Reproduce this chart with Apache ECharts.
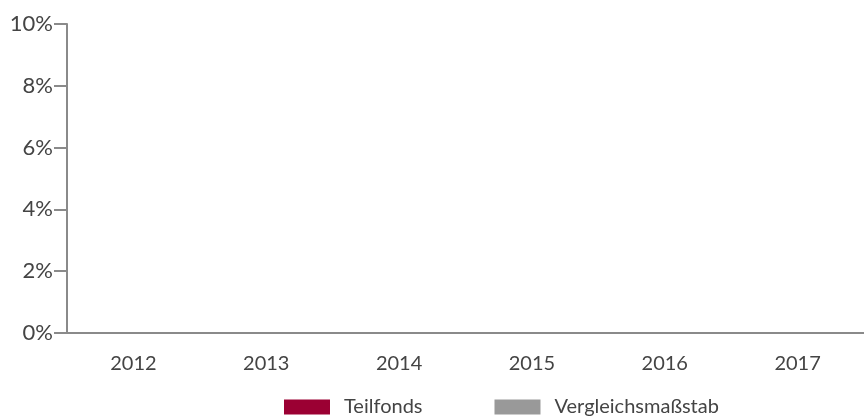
<!DOCTYPE html>
<html>
<head>
<meta charset="utf-8">
<script src="https://cdn.jsdelivr.net/npm/echarts@6/dist/echarts.min.js"></script>
<style>
  html, body { margin: 0; padding: 0; background: #fff; }
  #chart { width: 864px; height: 419px; }
</style>
</head>
<body>
<div id="chart"></div>
<script>
// Jahre auf der x-Achse
var years = ['2012', '2013', '2014', '2015', '2016', '2017'];
// Werte (im Bild leer – keine Balken gezeichnet)
var teilfonds = [];
var vergleich = [];
var seriesNames = ['Teilfonds', 'Vergleichsmaßstab'];

var chart = echarts.init(document.getElementById('chart'));

var axisColor = '#8a8a8a';
var textColor = '#444';
var font = 'Lato, "Open Sans", sans-serif';

var option = {
  animation: false,
  grid: { left: 67, right: -7, top: 24, bottom: 86 },
  legend: {
    left: 279,
    top: 392,
    itemWidth: 46,
    itemHeight: 15,
    itemGap: 72,
    icon: 'rect',
    textStyle: { color: textColor, fontSize: 20, fontFamily: font, padding: [0, 0, 0, 9] },
    data: seriesNames
  },
  xAxis: {
    type: 'category',
    data: years,
    axisLine: { lineStyle: { color: axisColor, width: 2 } },
    axisTick: { length: 13, lineStyle: { color: axisColor, width: 2 } },
    axisLabel: { color: textColor, fontSize: 20, fontFamily: font, margin: 21 }
  },
  yAxis: {
    type: 'value',
    min: 0,
    max: 10,
    interval: 2,
    splitLine: { show: false },
    axisLine: { show: true, lineStyle: { color: axisColor, width: 2 } },
    axisTick: { show: true, length: 13, lineStyle: { color: axisColor, width: 2 } },
    axisLabel: { color: textColor, fontSize: 22, fontFamily: font, margin: 14, formatter: '{value}%' }
  },
  series: [
    { name: seriesNames[0], type: 'bar', data: teilfonds, itemStyle: { color: '#9b0033' } },
    { name: seriesNames[1], type: 'bar', data: vergleich, itemStyle: { color: '#999999' } }
  ]
};

chart.setOption(option);
</script>
</body>
</html>
